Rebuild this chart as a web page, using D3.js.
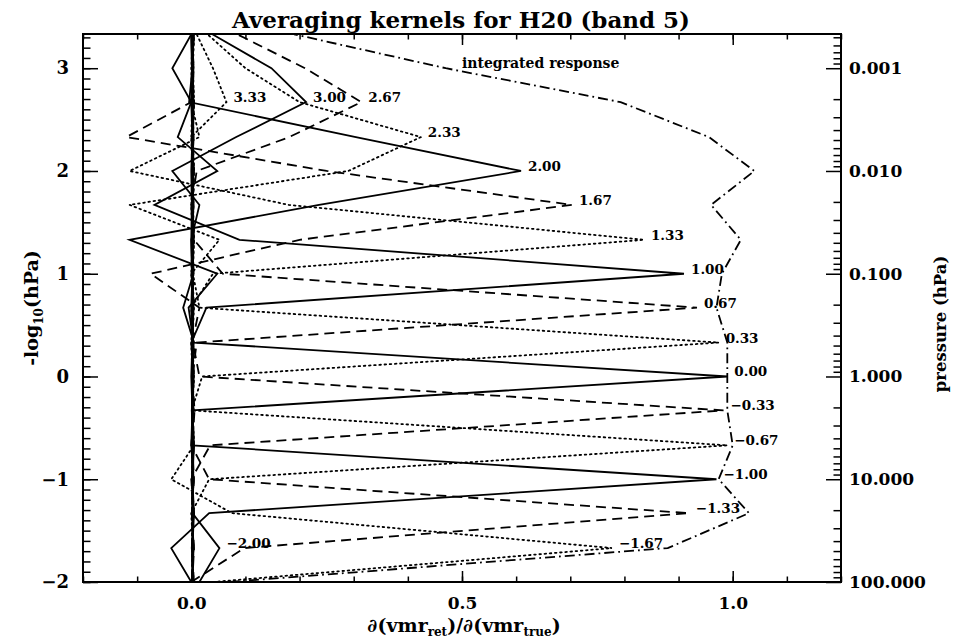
<!DOCTYPE html>
<html>
<head>
<meta charset="utf-8">
<script src="https://cdn.jsdelivr.net/npm/d3@7/dist/d3.min.js"></script>
<style>
  body { margin: 0; background: #fff; }
  svg text { font-family: "DejaVu Serif", serif; font-weight: bold; fill: #000; }
</style>
</head>
<body>
<svg id="chart" width="959" height="639"></svg>
<script>
// Retrieval levels, -log10(p / hPa)
const levels = [-2.00, -1.67, -1.33, -1.00, -0.67, -0.33, 0.00, 0.33, 0.67,
                1.00, 1.33, 1.67, 2.00, 2.33, 2.67, 3.00, 3.33];
const kernelNames = ["−2.00", "−1.67", "−1.33", "−1.00", "−0.67", "−0.33", "0.00", "0.33", "0.67",
                     "1.00", "1.33", "1.67", "2.00", "2.33", "2.67", "3.00", "3.33"];

// One averaging kernel per retrieval level; values listed from level -2.00 up to 3.33
const akM200 = [0.015, 0.052, 0.002, 0.003, 0.001, 0.002, 0, 0.002, 0, 0.002, 0, 0.001, 0, 0.002, 0, 0.001, 0];
const akM167 = [0.040, 0.777, 0.075, -0.037, 0.005, 0.003, 0.002, 0, 0.003, 0, 0.002, 0, 0.003, 0, 0.002, 0, 0.003];
const akM133 = [0.000, 0.098, 0.919, 0.033, 0.000, 0.004, 0.003, 0.004, 0.002, 0.004, 0.003, 0.004, 0.002, 0.004, 0.003, 0.004, 0.002];
const akM100 = [0.000, -0.037, 0.033, 0.970, 0.002, 0.001, 0.004, 0.001, 0.004, 0.001, 0.004, 0.001, 0.004, 0.001, 0.004, 0.001, 0.004];
const akM067 = [0.002, 0.003, 0.000, 0.033, 0.990, 0.002, 0.005, 0.002, 0.005, 0.002, 0.005, 0.002, 0.005, 0.002, 0.005, 0.002, 0.005];
const akM033 = [0.003, 0.002, 0.004, 0.000, 0.035, 0.983, 0.015, 0.003, 0.001, 0.003, 0.001, 0.003, 0.001, 0.003, 0.001, 0.003, 0.001];
const akP000 = [0.001, 0.004, 0.002, 0.004, 0.000, 0.002, 0.990, 0.005, -0.015, 0.004, 0.002, 0.004, 0.002, 0.004, 0.002, 0.004, 0.002];
const akP033 = [0.004, 0.001, 0.003, 0.001, 0.004, 0.001, 0.020, 0.974, 0.015, 0.003, 0.005, 0.003, 0.005, 0.003, 0.005, 0.003, 0.005];
const akP067 = [0.002, 0.005, 0.001, 0.005, 0.002, 0.006, 0.002, 0.010, 0.934, 0.058, 0.005, 0.002, 0.005, 0.002, 0.005, 0.002, 0.005];
const akP100 = [0.003, 0.002, 0.005, 0.002, 0.005, 0.002, 0.004, 0.000, 0.028, 0.910, 0.089, -0.068, 0.048, -0.025, 0.000, -0.035, 0.000];
const akP133 = [0.001, 0.003, 0.001, 0.003, 0.001, 0.003, 0.001, 0.003, 0.000, 0.040, 0.836, 0.180, -0.114, 0.015, 0.000, 0.004, 0.002];
const akP167 = [0.005, 0.001, 0.005, 0.001, 0.005, 0.001, 0.005, 0.002, 0.015, -0.075, 0.200, 0.703, 0.250, -0.120, 0.000, 0.003, 0.001];
const akP200 = [0.002, 0.004, 0.002, 0.004, 0.002, 0.004, 0.002, 0.004, -0.005, 0.048, -0.114, 0.236, 0.609, 0.304, -0.004, 0.002, 0.000];
const akP233 = [0.004, 0.002, 0.004, 0.002, 0.004, 0.002, 0.004, 0.002, 0.004, 0.000, 0.052, -0.114, 0.290, 0.424, 0.200, 0.100, 0.030];
const akP267 = [0.001, 0.003, 0.001, 0.003, 0.001, 0.003, 0.001, 0.003, 0.001, 0.003, 0.004, 0.000, 0.010, 0.181, 0.314, 0.210, 0.085];
const akP300 = [0.003, 0.001, 0.003, 0.001, 0.003, 0.001, 0.003, 0.001, 0.003, 0.001, 0.000, 0.015, -0.035, 0.083, 0.212, 0.148, 0.039];
const akP333 = [0.002, 0.004, 0.002, 0.004, 0.002, 0.004, 0.002, 0.004, 0.002, 0.004, 0.002, 0.004, 0.002, 0.000, 0.065, 0.040, 0.010];

const kernels = [akM200, akM167, akM133, akM100, akM067, akM033, akP000, akP033, akP067,
                 akP100, akP133, akP167, akP200, akP233, akP267, akP300, akP333];

// Row sums of the kernel matrix (integrated response)
const integrated = [0.07, 0.88, 1.03, 0.974, 1.00, 0.99, 0.99, 0.99, 0.97,
                    0.98, 1.015, 0.96, 1.04, 0.956, 0.793, 0.47, 0.19];

const xMajor = [0.0, 0.5, 1.0];
const xMinor = d3.range(-2, 13).map(d => d / 10);
const yMajor = [-2, -1, 0, 1, 2, 3];
const yMinor = d3.range(-20, 34).map(d => d / 10);
const pMajor = [100, 10, 1, 0.1, 0.01, 0.001];

const svg = d3.select("#chart");
const L = 83, R = 841, T = 34, B = 582;
const yTop = 3.333;

const x = d3.scaleLinear().domain([-0.2, 1.2]).range([L, R]);
const y = d3.scaleLinear().domain([-2, yTop]).range([B, T]);
const yp = d3.scaleLog().domain([100, Math.pow(10, -yTop)]).range([B, T]);

const pMinor = [];
[-4, -3, -2, -1, 0, 1].forEach(e => {
  for (let k = 2; k <= 9; k++) {
    const v = k * Math.pow(10, e);
    if (v <= 100 && v >= Math.pow(10, -yTop)) pMinor.push(v);
  }
});

svg.append("defs").append("clipPath").attr("id", "plotclip")
  .append("rect").attr("x", L).attr("y", T).attr("width", R - L).attr("height", B - T);

const plot = svg.append("g").attr("clip-path", "url(#plotclip)");

const dashFor = i => [null, "1.6,3.6", "10,6"][i % 3];
const line = d3.line().x(d => x(d[0])).y(d => y(d[1]));

kernels.forEach((row, i) => {
  plot.append("path")
    .datum(row.map((v, j) => [v, levels[j]]))
    .attr("d", line)
    .attr("fill", "none")
    .attr("stroke", "#000")
    .attr("stroke-width", 1.8)
    .attr("stroke-linecap", i % 3 === 1 ? "round" : "butt")
    .attr("stroke-dasharray", dashFor(i));
});

plot.append("path")
  .datum(integrated.map((v, j) => [v, levels[j]]))
  .attr("d", line)
  .attr("fill", "none")
  .attr("stroke", "#000")
  .attr("stroke-width", 1.8)
  .attr("stroke-dasharray", "10,4,1.8,4");

// Each kernel is tagged at its largest value
kernels.forEach((row, i) => {
  const j = d3.maxIndex(row);
  svg.append("text")
    .attr("x", x(row[j]) + 7)
    .attr("y", y(levels[j]) - 5)
    .attr("dominant-baseline", "central")
    .attr("font-size", 13.5)
    .text(kernelNames[i]);
});

svg.append("text")
  .attr("x", 462).attr("y", 63)
  .attr("dominant-baseline", "central")
  .attr("font-size", 14)
  .text("integrated response");

// Axes
function clean(g) { g.select(".domain").remove(); g.selectAll("line").attr("stroke", "#000").attr("stroke-width", 1.5); }

svg.append("g").attr("transform", `translate(0,${B})`)
  .call(d3.axisBottom(x).tickValues(xMinor).tickSize(-5.5).tickFormat(""))
  .call(clean);
const xb = svg.append("g").attr("transform", `translate(0,${B})`)
  .call(d3.axisBottom(x).tickValues(xMajor).tickSize(-11).tickPadding(15).tickFormat(d3.format(".1f")))
  .call(clean);
xb.selectAll("text").attr("font-size", 17).attr("font-family", null);

svg.append("g").attr("transform", `translate(0,${T})`)
  .call(d3.axisTop(x).tickValues(xMinor).tickSize(-5.5).tickFormat(""))
  .call(clean);
svg.append("g").attr("transform", `translate(0,${T})`)
  .call(d3.axisTop(x).tickValues(xMajor).tickSize(-11).tickFormat(""))
  .call(clean);

svg.append("g").attr("transform", `translate(${L},0)`)
  .call(d3.axisLeft(y).tickValues(yMinor).tickSize(-7.5).tickFormat(""))
  .call(clean);
const yl = svg.append("g").attr("transform", `translate(${L},0)`)
  .call(d3.axisLeft(y).tickValues(yMajor).tickSize(-15).tickPadding(14)
    .tickFormat(d => d < 0 ? "−" + Math.abs(d) : String(d)))
  .call(clean);
yl.selectAll("text").attr("font-size", 18).attr("font-family", null);

svg.append("g").attr("transform", `translate(${R},0)`)
  .call(d3.axisRight(yp).tickValues(pMinor).tickSize(-7.5).tickFormat(""))
  .call(clean);
const yr = svg.append("g").attr("transform", `translate(${R},0)`)
  .call(d3.axisRight(yp).tickValues(pMajor).tickSize(-15).tickPadding(8).tickFormat(d3.format(".3f")))
  .call(clean);
yr.selectAll("text").attr("font-size", 17).attr("font-family", null);

svg.append("rect")
  .attr("x", L).attr("y", T).attr("width", R - L).attr("height", B - T)
  .attr("fill", "none").attr("stroke", "#000").attr("stroke-width", 2);

// Titles
svg.append("text")
  .attr("x", 461).attr("y", 28)
  .attr("text-anchor", "middle")
  .attr("font-size", 23)
  .text("Averaging kernels for H20 (band 5)");

const lt = svg.append("text")
  .attr("transform", "translate(38,308) rotate(-90)")
  .attr("text-anchor", "middle")
  .attr("font-size", 19);
lt.append("tspan").text("-log");
lt.append("tspan").attr("font-size", 12).attr("dy", 5).text("10");
lt.append("tspan").attr("dy", -5).text("(hPa)");

svg.append("text")
  .attr("transform", "translate(946,324) rotate(-90)")
  .attr("text-anchor", "middle")
  .attr("font-size", 16.5)
  .text("pressure (hPa)");

const bt = svg.append("text")
  .attr("x", 464).attr("y", 632)
  .attr("text-anchor", "middle")
  .attr("font-size", 19);
bt.append("tspan").text("∂(vmr");
bt.append("tspan").attr("font-size", 12).attr("dy", 4).text("ret");
bt.append("tspan").attr("dy", -4).text(")/∂(vmr");
bt.append("tspan").attr("font-size", 12).attr("dy", 4).text("true");
bt.append("tspan").attr("dy", -4).text(")");
</script>
</body>
</html>
